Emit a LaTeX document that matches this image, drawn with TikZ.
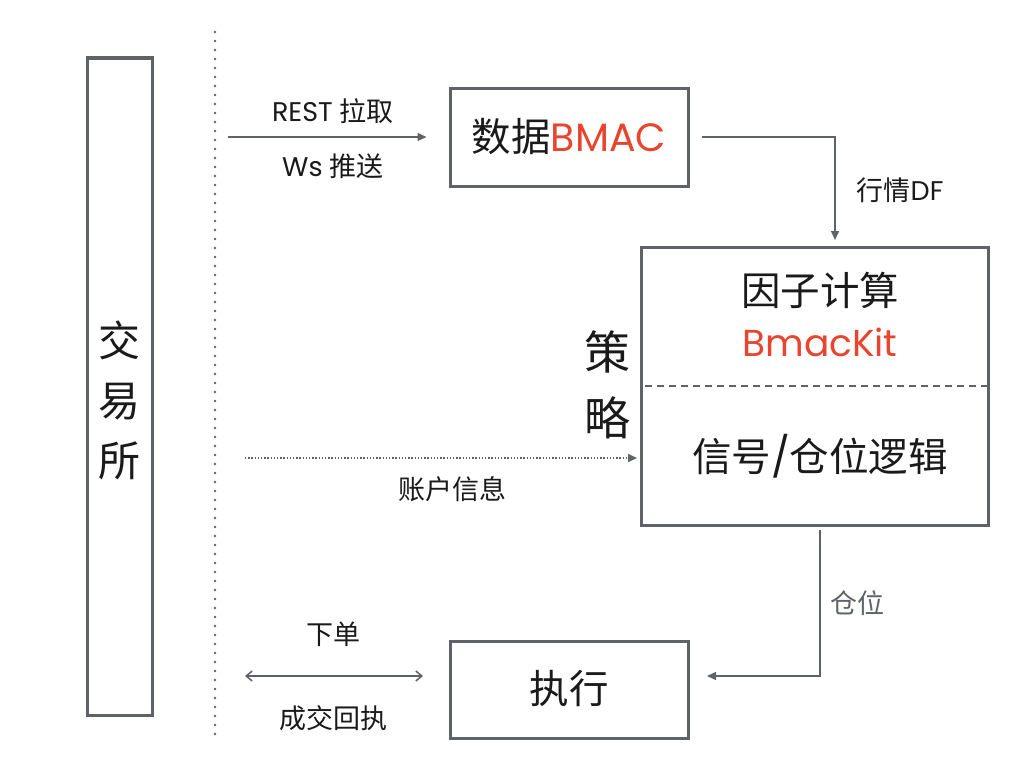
\documentclass[tikz,border=0pt]{standalone}
\usepackage{fontspec}
\setmainfont{Poppins}
\newfontfamily\cjk{Noto Sans CJK SC}
\usetikzlibrary{arrows.meta}
\definecolor{linegray}{HTML}{5F6368}
\definecolor{accred}{HTML}{E8452F}
\definecolor{txt}{HTML}{1A1A1A}
\tikzset{
  box/.style={draw=linegray, line width=3pt, fill=white, inner sep=0pt},
  arr/.style={draw=linegray, line width=1.5pt, -{Triangle[length=9pt,width=8pt]}},
  dbl/.style={draw=linegray, line width=1.5pt, {Straight Barb[length=6pt,width=10pt]}-{Straight Barb[length=6pt,width=10pt]}},
  lbl/.style={text=txt, font=\fontsize{27}{31}\selectfont, inner sep=0pt},
  big/.style={text=txt, font=\fontsize{39.5}{45}\selectfont, inner sep=0pt},
}
\begin{document}
\begin{tikzpicture}[x=1pt, y=-1pt]
\useasboundingbox (0,0) rectangle (1024,768);
\fill[white] (0,0) rectangle (1024,768);

% exchange
\node[box, minimum width=65pt, minimum height=657pt] (ex) at (119.5,386.5) {};
\node[text=txt, align=center, font=\fontsize{42}{60}\selectfont\cjk, inner sep=0pt] (extxt) at (119.5,400) {交\\易\\所};

% dotted separator
\coordinate (sepTop) at (215,32);
\coordinate (sepBot) at (215,738);
\draw[linegray, line width=2.6pt, line cap=round, dash pattern=on 0pt off 9pt] (sepTop) -- (sepBot);

% data box
\node[box, minimum width=238pt, minimum height=98pt] (data) at (569,137) {};
\node[big] (datatxt) at (569,137) {{\cjk 数据}\textcolor{accred}{BMAC}};

% strategy box
\node[box, minimum width=347pt, minimum height=278pt] (strat) at (814.5,386) {};
\coordinate (divL) at (645,386);
\coordinate (divR) at (988,386);
\draw[linegray, line width=2.6pt, dash pattern=on 7pt off 5pt] (divL) -- (divR);
\node[big] (factor) at (820,290) {\cjk 因子计算};
\node[big, text=accred, font=\fontsize{37.5}{45}\selectfont] (kit) at (820,342) {BmacKit};
\node[big] (signal) at (820,456) {{\cjk 信号}/{\cjk 仓位逻辑}};
\node[text=txt, align=center, font=\fontsize{46}{66}\selectfont\cjk, inner sep=0pt] (celue) at (607,385) {策\\略};

% execution box
\node[box, minimum width=238pt, minimum height=97pt] (exec) at (569,689.5) {};
\node[big] (exectxt) at (569,689) {\cjk 执行};

% REST / Ws arrow
\coordinate (restS) at (228,137);
\draw[arr, shorten >=22pt] (restS) -- (data.west);
\node[lbl] (restlbl) at (333,111) {REST {\cjk 拉取}};
\node[lbl] (wslbl) at (333,166) {Ws {\cjk 推送}};

% market data arrow
\coordinate (mdT) at (835,247);
\draw[arr, shorten <=12pt, shorten >=7pt] (data.east) -| (mdT);
\node[lbl] (mdlbl) at (900,190) {{\cjk 行情}DF};

% account info dotted arrow
\coordinate (accS) at (245,458);
\coordinate (accE) at (641,458);
\draw[draw=linegray, line width=1.4pt, dash pattern=on 1.4pt off 1.8pt, -{Triangle[length=9pt,width=8pt]}, shorten >=4pt] (accS) -- (accE);
\node[lbl] (acclbl) at (452,489) {\cjk 账户信息};

% position arrow
\coordinate (posS) at (820,530);
\coordinate (posC) at (820,676);
\coordinate (posE) at (688,676);
\draw[arr, shorten >=19pt] (posS) -- (posC) -- (posE);
\node[lbl, text=linegray] (poslbl) at (857,603) {\cjk 仓位};

% order double arrow
\coordinate (ordS) at (245,676);
\coordinate (ordE) at (423,676);
\draw[dbl] (ordS) -- (ordE);
\node[lbl] (ordlbl) at (333,634) {\cjk 下单};
\node[lbl] (filllbl) at (333,718) {\cjk 成交回执};
\end{tikzpicture}
\end{document}
